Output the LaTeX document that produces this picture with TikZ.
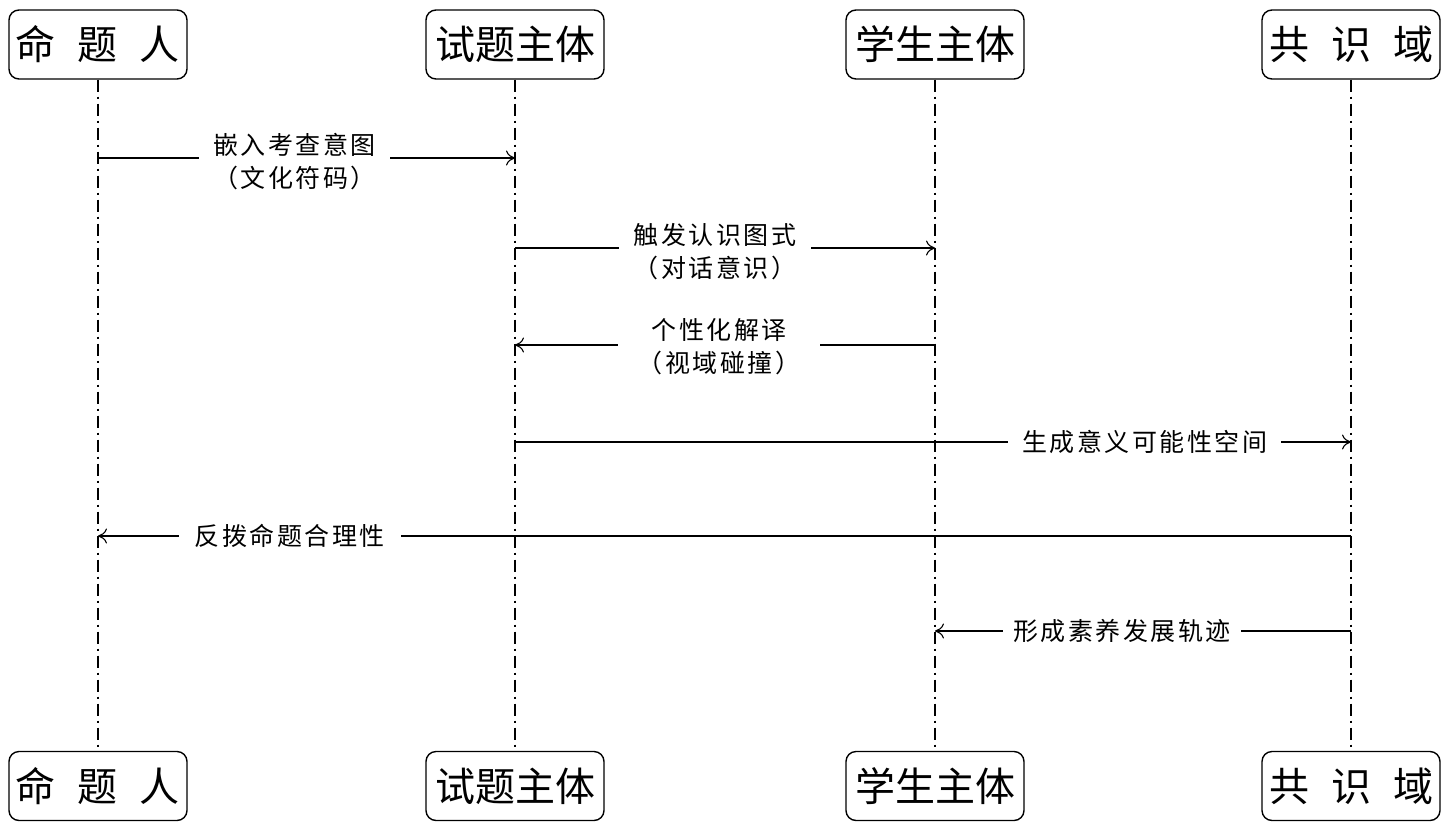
\documentclass[tikz,border=0pt]{standalone}
\usepackage{fontspec}
\newfontfamily\cjk{Noto Sans CJK SC}
\newfontfamily\cjkls[LetterSpace=10]{Noto Sans CJK SC}
\usetikzlibrary{arrows.meta}
\begin{document}
\begin{tikzpicture}[x=1pt,y=-1pt,
  actor/.style={draw, rounded corners=10pt, line width=1.4pt, minimum width=178pt, minimum height=69pt, inner sep=0pt, font=\cjk\fontsize{40}{40}\selectfont},
  life/.style={line width=1.8pt, dash pattern=on 12pt off 5pt on 2pt off 5pt},
  msg/.style={line width=1.1pt, -{To[length=9pt,width=15pt]}},
  lbl/.style={fill=white, inner ysep=2pt, align=center, font=\cjkls\fontsize{25}{33}\selectfont}]
\useasboundingbox (0,0) rectangle (1446,828);
\fill[white] (0,0) rectangle (1446,828);
% participants
\node[actor] (a1) at (98,44.5) {命\hspace{0.55em}题\hspace{0.55em}人};
\node[actor] (a2) at (515,44.5) {试题主体};
\node[actor] (a3) at (935,44.5) {学生主体};
\node[actor] (a4) at (1351,44.5) {共\hspace{0.55em}识\hspace{0.55em}域};
\node[actor] (b1) at (98,786) {命\hspace{0.55em}题\hspace{0.55em}人};
\node[actor] (b2) at (515,786) {试题主体};
\node[actor] (b3) at (935,786) {学生主体};
\node[actor] (b4) at (1351,786) {共\hspace{0.55em}识\hspace{0.55em}域};
% lifelines
\draw[life] (a1.south) -- (b1.north);
\draw[life] (a2.south) -- (b2.north);
\draw[life] (a3.south) -- (b3.north);
\draw[life] (a4.south) -- (b4.north);
% message rows
\coordinate (r1) at (0,158);
\coordinate (r2) at (0,248);
\coordinate (r3) at (0,345);
\coordinate (r4) at (0,442);
\coordinate (r5) at (0,536);
\coordinate (r6) at (0,631);
% messages
\draw[msg] (a1 |- r1) -- node[lbl, pos=0.471, yshift=-4pt, inner xsep=14pt] {嵌入考查意图\\（文化符码）} (a2 |- r1);
\draw[msg] (a2 |- r2) -- node[lbl, pos=0.476, yshift=-4pt, inner xsep=15pt] {触发认识图式\\（对话意识）} (a3 |- r2);
\draw[msg] (a3 |- r3) -- node[lbl, pos=0.514, yshift=-2pt, inner xsep=20pt] {个性化解译\\（视域碰撞）} (a2 |- r3);
\draw[msg] (a2 |- r4) -- node[lbl, pos=0.753, inner xsep=14pt] {生成意义可能性空间} (a4 |- r4);
\draw[msg] (a4 |- r5) -- node[lbl, pos=0.847, inner xsep=16pt] {反拨命题合理性} (a1 |- r5);
\draw[msg] (a4 |- r6) -- node[lbl, pos=0.55, inner xsep=10pt] {形成素养发展轨迹} (a3 |- r6);
\end{tikzpicture}
\end{document}
